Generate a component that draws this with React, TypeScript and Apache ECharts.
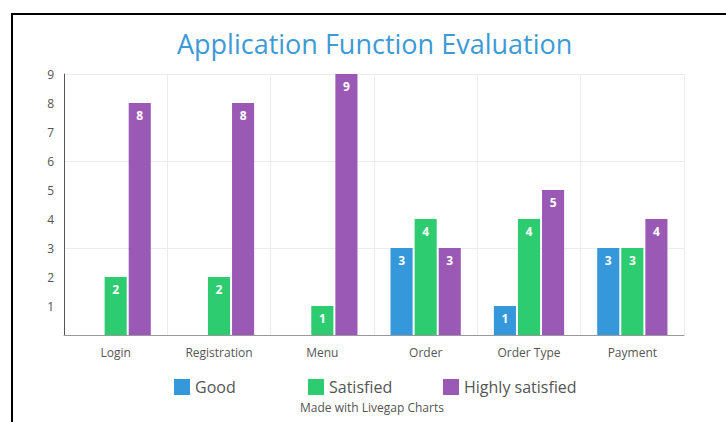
import React, { useEffect, useRef } from "react";
import * as echarts from "echarts";

const categories = ["Login", "Registration", "Menu", "Order", "Order Type", "Payment"];
const goodValues = [0, 0, 0, 3, 1, 3];
const satisfiedValues = [2, 2, 1, 4, 4, 3];
const highlyValues = [8, 8, 9, 3, 5, 4];
const seriesNames = ["Good", "Satisfied", "Highly satisfied"];
const seriesColors = ["#3498db", "#2ecc71", "#9b59b6"];

const FONT = "'Open Sans', sans-serif";

export default function App() {
  const ref = useRef<HTMLDivElement>(null);
  useEffect(() => {
    if (!ref.current) return;
    const chart = echarts.init(ref.current, undefined, { renderer: "svg" });
    const values = [goodValues, satisfiedValues, highlyValues];
    const legendLefts = [169, 303, 438];
    chart.setOption({
      animation: false,
      backgroundColor: "#fff",
      textStyle: { fontFamily: FONT },
      title: [
        {
          text: "Application Function Evaluation",
          left: 172,
          top: 25,
          textStyle: { fontFamily: FONT, fontSize: 27, fontWeight: "normal", color: "#3d9ad6" },
        },
        {
          text: "Made with Livegap Charts",
          left: 295,
          top: 396,
          textStyle: { fontFamily: FONT, fontSize: 12, fontWeight: "normal", color: "#555" },
        },
      ],
      legend: seriesNames.map((n, i) => ({
        data: [n],
        left: legendLefts[i],
        top: 374,
        icon: "rect",
        itemWidth: 16,
        itemHeight: 16,
        itemGap: 6,
        textStyle: { fontFamily: FONT, fontSize: 16, color: "#555" },
      })),
      grid: { left: 64, right: 42, top: 74, bottom: 87 },
      xAxis: {
        type: "category",
        data: categories,
        axisLine: { lineStyle: { color: "#999" } },
        axisTick: { show: false },
        axisLabel: { fontFamily: FONT, fontSize: 12, color: "#555", margin: 11 },
        splitLine: { show: true, lineStyle: { color: "#ececec" } },
      },
      yAxis: [
        {
          type: "value",
          min: 0,
          max: 9,
          interval: 1,
          axisLine: { show: true, lineStyle: { color: "#555" } },
          axisTick: { show: false },
          axisLabel: {
            fontFamily: FONT,
            fontSize: 12,
            color: "#555",
            margin: 10,
            formatter: (v: number) => (v === 0 ? "" : String(v)),
          },
          splitLine: { show: false },
        },
        {
          type: "value",
          min: 0,
          max: 9,
          interval: 3,
          position: "left",
          axisLine: { show: false },
          axisTick: { show: false },
          axisLabel: { show: false },
          splitLine: { show: true, lineStyle: { color: "#ececec" } },
        },
      ],
      graphic: [
        {
          type: "rect",
          shape: { x: 12, y: 14, width: 900, height: 600 },
          style: { fill: "none", stroke: "#000", lineWidth: 2 },
          silent: true,
        },
      ],
      series: seriesNames.map((n, i) => ({
        name: n,
        type: "bar",
        yAxisIndex: 0,
        data: values[i],
        barGap: "9%",
        barCategoryGap: "32%",
        itemStyle: { color: seriesColors[i] },
        label: {
          show: true,
          position: "insideTop",
          distance: 6,
          color: "#fff",
          fontWeight: "bold",
          fontSize: 12,
          fontFamily: FONT,
          formatter: (p: any) => (p.value === 0 ? "" : String(p.value)),
        },
      })),
    });
    return () => chart.dispose();
  }, []);
  return <div ref={ref} style={{ position: "fixed", left: 0, top: 0, width: 726, height: 422 }} />;
}
